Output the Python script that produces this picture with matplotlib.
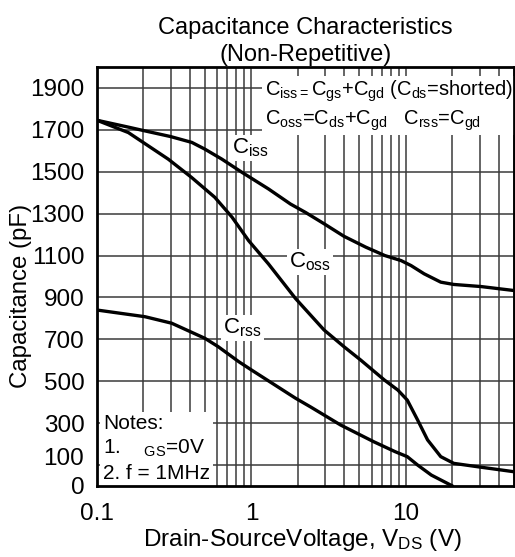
import numpy as np
import matplotlib
matplotlib.use('Agg')
import matplotlib.pyplot as plt
from matplotlib.ticker import FixedLocator, NullFormatter, NullLocator
from matplotlib.transforms import ScaledTranslation

plt.rcParams['font.family'] = ['Liberation Sans', 'DejaVu Sans']
plt.rcParams['mathtext.default'] = 'regular'

# data
ciss_v = [0.1, 0.16, 0.205, 0.3, 0.412, 0.5, 0.645, 0.87, 1.29, 1.79, 2.25, 2.95, 3.97,
          5.5, 7.3, 9.3, 10.8, 13.1, 16.8, 20.4, 30.6, 50]
ciss_c = [1746, 1713, 1695, 1668, 1640, 1608, 1560, 1497, 1418, 1346, 1305, 1252, 1192,
          1140, 1100, 1076, 1052, 1013, 973, 962, 952, 933]

coss_v = [0.1, 0.16, 0.29, 0.41, 0.58, 0.75, 0.96, 1.29, 1.93, 2.95, 3.97, 5.1, 7.25,
          8.86, 10.2, 11.9, 13.8, 16.8, 20.4, 29, 50]
coss_c = [1746, 1687, 1560, 1473, 1378, 1283, 1171, 1060, 895, 745, 665, 601, 506,
          458, 410, 315, 220, 140, 108, 92, 68]

crss_v = [0.1, 0.205, 0.305, 0.5, 0.61, 0.83, 1.0, 1.93, 2.42, 3.78, 6.2, 8.5, 10.2,
          11.9, 14.6, 20]
crss_c = [840, 808, 777, 705, 665, 593, 554, 419, 377, 291, 211, 164, 140,
          100, 52, 0]

yticks = [0, 100, 300, 500, 700, 900, 1100, 1300, 1500, 1700, 1900]
xticks = [0.1, 1, 10]
xgrid = [a * b for b in (0.1, 1, 10) for a in range(1, 10) if a * b <= 50]

fig = plt.figure(figsize=(5.15, 5.57), dpi=100)
ax = fig.add_axes([0.188, 0.1275, 0.810, 0.7522])

ax.set_xscale('log')
ax.set_xlim(0.1, 50)
ax.set_ylim(0, 2000)

gcol = '#3a3a3a'
for xv in xgrid:
    ax.axvline(xv, color=gcol, lw=1.1, zorder=1)
for yv in yticks[1:]:
    ax.axhline(yv, color=gcol, lw=1.1, zorder=1)

for v, c in ((ciss_v, ciss_c), (coss_v, coss_c), (crss_v, crss_c)):
    ax.plot(v, c, color='black', lw=2.4, zorder=3, solid_joinstyle='round',
            solid_capstyle='round')

ax.xaxis.set_major_locator(FixedLocator(xticks))
ax.xaxis.set_minor_locator(NullLocator())
ax.xaxis.set_minor_formatter(NullFormatter())
ax.set_xticklabels(['0.1', '1', '10'])
ax.set_yticks(yticks)
ax.tick_params(axis='both', length=0, labelsize=17.5)
ax.tick_params(axis='x', pad=12)
ax.tick_params(axis='y', pad=9)
# the 100 label sits a bit higher in the original
lab100 = ax.get_yticklabels()[1]
lab100.set_transform(lab100.get_transform() + ScaledTranslation(0, 0.09, fig.dpi_scale_trans))

for sp in ax.spines.values():
    sp.set_linewidth(2.0)
    sp.set_zorder(5)

ax.set_xlabel('Drain-SourceVoltage, V$_{DS}$ (V)', fontsize=17.5)
ax.xaxis.set_label_coords(0.493, -0.097)
ax.set_ylabel('Capacitance (pF)', fontsize=17.3)
ax.yaxis.set_label_coords(-0.156, 0.453)
ax.set_title('Capacitance Characteristics\n(Non-Repetitive)', fontsize=17, pad=4, linespacing=1.35)

box = dict(facecolor='white', edgecolor='none', pad=1.5)
ax.text(0.75, 1613, 'C$_{iss}$', fontsize=16, ha='left', va='center', bbox=box, zorder=4)
ax.text(1.76, 1069, 'C$_{oss}$', fontsize=16, ha='left', va='center', bbox=box, zorder=4)
ax.text(0.66, 754, 'C$_{rss}$', fontsize=16, ha='left', va='center', bbox=box, zorder=4)

ax.text(1.22, 1945,
        'C$_{iss=}$C$_{gs}$+C$_{gd}$ (C$_{ds}$=shorted)\n'
        'C$_{oss}$=C$_{ds}$+C$_{gd}$   C$_{rss}$=C$_{gd}$',
        fontsize=14.5, ha='left', va='top', linespacing=1.25,
        bbox=dict(facecolor='white', edgecolor='none', pad=2), zorder=4)

ax.text(0.1094, 15, 'Notes:\n1.    $_{GS}$=0V\n2. f = 1MHz',
        fontsize=15, ha='left', va='bottom', linespacing=1.3,
        bbox=dict(facecolor='white', edgecolor='none', pad=2), zorder=4)

fig.savefig('out.png', dpi=100)
